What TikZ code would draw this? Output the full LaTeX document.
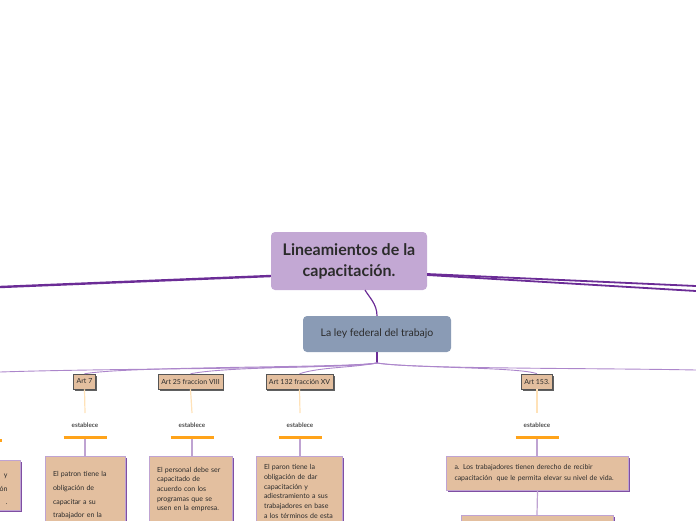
\documentclass[tikz,border=0pt]{standalone}
\usepackage{fontspec}
\setmainfont{Lato}
\usetikzlibrary{positioning,calc,shadows}
\definecolor{Lilac}{HTML}{C3A8D4}
\definecolor{Slate}{HTML}{8A9BB5}
\definecolor{Tan}{HTML}{E3BF9F}
\definecolor{Grape}{HTML}{6B2C96}
\definecolor{Wisteria}{HTML}{AC86CB}
\definecolor{Amber}{HTML}{FFA31A}
\definecolor{Peach}{HTML}{FFE2B8}
\definecolor{Frame}{HTML}{BFA3D2}
\definecolor{Shade}{HTML}{7F4FA3}
\definecolor{Ink}{HTML}{2B2B2B}
\tikzset{
  root/.style={rounded corners=4pt,fill=Lilac,draw=none,text=Ink,font=\fontsize{16}{21}\selectfont\bfseries,align=center,minimum width=156pt,minimum height=58pt,inner sep=2pt},
  law/.style={rounded corners=4pt,fill=Slate,draw=none,text=Ink,font=\fontsize{10.5}{12}\selectfont,minimum width=148pt,minimum height=36pt},
  art/.style={fill=Tan,draw=Ink!80,line width=.5pt,text=Ink,font=\fontsize{7}{8}\selectfont,minimum height=15pt,inner xsep=3pt,inner ysep=0pt,drop shadow={shadow xshift=1.6pt,shadow yshift=-1.6pt,fill=Ink!75,opacity=1}},
  verb/.style={font=\fontsize{6.3}{7}\selectfont\bfseries,text=Ink!85,inner sep=1pt},
  note/.style={fill=Tan,draw=Frame,line width=.8pt,text=Ink,font=\fontsize{7}{9.8}\selectfont,align=left,anchor=north,inner xsep=8pt,drop shadow={shadow xshift=1.8pt,shadow yshift=-1.8pt,fill=Shade,opacity=1}},
  trunk/.style={draw=Grape,line width=2.4pt},
  trunklet/.style={draw=Grape,line width=1.8pt},
  link/.style={draw=Grape,line width=1.2pt},
  twig/.style={draw=Wisteria,line width=.9pt},
  stem/.style={draw=Peach,line width=1.2pt},
  bar/.style={draw=Amber,line width=3pt},
  drop/.style={draw=Frame,line width=1.2pt}
}
\begin{document}
\begin{tikzpicture}[x=1pt,y=-1pt]
  \useasboundingbox (0,0) rectangle (696,520);
  \clip (0,0) rectangle (696,520);
  % main topic
  \node[root,text depth=1pt] (title) at (349,261) {Lineamientos de la\\capacitación.};
  \coordinate (wend) at (0,287);
  \coordinate (eendA) at (696,286);
  \coordinate (eendB) at (696,291);
  \draw[trunk] ($(title.west)+(0,15)$) -- (wend);
  \draw[trunklet] ($(title.east)+(0,13)$) -- (eendA);
  \draw[trunklet] ($(title.east)+(0,14)$) -- (eendB);
  % subtopic
  \node[law] (ley) at (377,334) {La ley federal del trabajo};
  \draw[link] (365,290) .. controls (369,297) and (377,304) .. (ley.north);
  \coordinate (hub) at (377,363);
  \draw[link] (ley.south) -- (hub);
  % articles
  \node[art] (art7) at (84.5,381.5) {Art 7};
  \node[art] (art25) at (190.5,381.5) {Art 25 fraccion VIII};
  \node[art] (art132) at (299.5,381.5) {Art 132 fracción XV};
  \node[art] (art153) at (537,381.5) {Art 153.};
  \coordinate (sw) at (0,372);
  \coordinate (se) at (696,370);
  \draw[twig] (hub) .. controls (350,369) and (120,368) .. (sw);
  \draw[twig] (hub) .. controls (345,368) and (130,366) .. (art7.north);
  \draw[twig] (hub) .. controls (345,368) and (230,366) .. (art25.north);
  \draw[twig] (hub) .. controls (350,368) and (320,367) .. (art132.north);
  \draw[twig] (hub) .. controls (410,368) and (520,367) .. (art153.north);
  \draw[twig] (hub) .. controls (410,369) and (600,368) .. (se);
  % establece
  \foreach \a/\x in {art7/85,art25/192,art132/300,art153/537}{
    \node[verb] (v-\a) at (\x,425) {establece};
    \draw[stem] (\a.south) -- (\x,413);
    \draw[bar] (\x-21.5,437) -- (\x+21.5,437);
    \draw[drop] (\x,438.5) -- (\x,456);
  }
  \draw[bar] (-20,440) -- (2,440);
  % notes
  \node[note,anchor=north east,text width=75pt,align=right,inner xsep=13pt,inner ysep=5pt,font=\fontsize{7}{13.5}\selectfont] (nleft) at (21,460) {\rule{0pt}{12.5pt}y\\ón\\.};
  \node[note,text width=64pt,inner ysep=15pt,text depth=60pt,font=\fontsize{7}{13.8}\selectfont] (n7) at (85,456) {El patron tiene la\\obligación de\\capacitar a su\\trabajador en la};
  \node[note,text width=67pt,inner ysep=10.5pt,text depth=60pt,font=\fontsize{7}{9.7}\selectfont] (n25) at (190.5,456) {El personal debe ser\\capacitado de\\acuerdo con los\\programas que se\\usen en la empresa.};
  \node[note,text width=70pt,inner ysep=8pt,text depth=60pt,font=\fontsize{7}{9.8}\selectfont] (n132) at (299,456) {El paron tiene la\\obligación de dar\\capacitación y\\adiestramiento a sus\\trabajadores en base\\a los términos de esta};
  \node[note,text width=166pt,minimum height=34pt,inner ysep=6pt,font=\fontsize{6.9}{11}\selectfont] (n153) at (537.5,456) {a. Los trabajadores tienen derecho de recibir\\capacitación\ \ que le permita elevar su nivel de vida.};
  \node[note,text width=136pt,minimum height=30pt] (n153b) at (537,515) {};
  \draw[drop] (n153.south) -- (n153b.north);
\end{tikzpicture}
\end{document}
